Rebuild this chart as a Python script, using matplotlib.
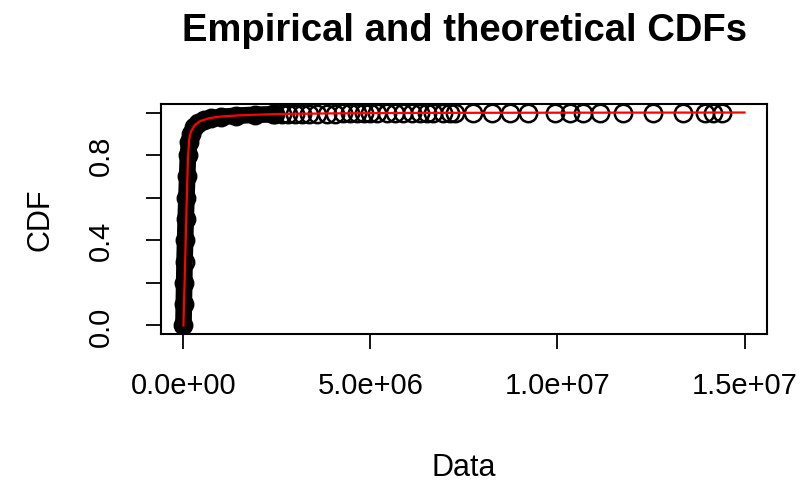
import numpy as np
import matplotlib.pyplot as plt

# empirical CDF, dense body (x in units of 1e6)
body_x = [0.00, 0.01, 0.02, 0.03, 0.045, 0.06, 0.08, 0.10, 0.12, 0.15, 0.20,
          0.28, 0.40, 0.55, 0.75, 1.00, 1.40, 1.90, 2.40]
body_f = [0.00, 0.10, 0.20, 0.30, 0.40, 0.50, 0.60, 0.70, 0.80, 0.86, 0.90,
          0.93, 0.95, 0.963, 0.972, 0.979, 0.985, 0.989, 0.992]

# empirical CDF, sparse tail
tail_x = [2.45, 2.64, 2.80, 2.98, 3.17, 3.36, 3.57, 3.84, 4.05, 4.26, 4.45,
          4.64, 4.83, 4.99, 5.17, 5.44, 5.65, 5.87, 6.11, 6.32, 6.51, 6.67,
          6.94, 7.13, 7.26, 7.74, 8.25, 8.73, 9.21, 9.93, 10.33, 10.68,
          11.13, 11.74, 12.55, 13.35, 13.94, 14.15, 14.39]
tail_f = [0.992, 0.993, 0.993, 0.994, 0.994, 0.994, 0.995, 0.995, 0.995,
          0.996, 0.996, 0.996, 0.996, 0.997, 0.997, 0.997, 0.997, 0.997,
          0.998, 0.998, 0.998, 0.998, 0.998, 0.998, 0.998, 0.999, 0.999,
          0.999, 0.999, 0.999, 0.999, 0.999, 0.999, 1.0, 1.0, 1.0, 1.0,
          1.0, 1.0]

# fitted (theoretical) CDF
fit_x = [0.0, 0.03, 0.06, 0.09, 0.12, 0.15, 0.20, 0.30, 0.45, 0.70, 1.00,
         1.50, 2.50, 4.00, 6.00, 9.00, 15.0]
fit_f = [0.0, 0.20, 0.40, 0.60, 0.78, 0.87, 0.91, 0.94, 0.96, 0.974, 0.981,
         0.987, 0.993, 0.996, 0.998, 0.999, 1.0]

xticks = [0, 5e6, 1e7, 1.5e7]
xtick_labels = ["0.0e+00", "5.0e+06", "1.0e+07", "1.5e+07"]
yticks = [0.0, 0.2, 0.4, 0.6, 0.8, 1.0]
ytick_labels = ["0.0", "", "0.4", "", "0.8", ""]

plt.rcParams['font.family'] = ['Liberation Sans', 'DejaVu Sans']

fig = plt.figure(figsize=(8.07, 4.85), dpi=100)
ax = fig.add_axes([0.1995, 0.3093, 0.7509, 0.4742])

scale = 1e6
bx = np.array(body_x) * scale
tx = np.array(tail_x) * scale
fx = np.array(fit_x) * scale

# thousands of overlapping circles near zero render as a solid black band
ax.plot(bx, body_f, color='black', lw=12, solid_capstyle='round', zorder=2)
ax.plot(bx, body_f, 'o', ms=12.5, mfc='none', mec='black', mew=1.8, zorder=2)
ax.plot(tx, tail_f, 'o', ms=12.5, mfc='none', mec='black', mew=1.8, zorder=2)
ax.plot(fx, fit_f, color='red', lw=1.6, zorder=3)

ax.set_xlim(-0.6e6, 15.6e6)
ax.set_ylim(-0.04, 1.04)
ax.set_xticks(xticks)
ax.set_xticklabels(xtick_labels)
ax.set_yticks(yticks)
ax.set_yticklabels(ytick_labels, rotation=90, va='center')

ax.tick_params(axis='both', direction='out', length=11, width=1.3,
               labelsize=21, color='black')
ax.tick_params(axis='x', pad=16)
ax.tick_params(axis='y', pad=22)
for s in ax.spines.values():
    s.set_linewidth(1.5)

fig.text(465 / 807, 1 - 31 / 485, "Empirical and theoretical CDFs",
         ha='center', va='center', fontsize=27.5, fontweight='bold')
fig.text(40 / 807, 1 - 220 / 485, "CDF", rotation=90, ha='center',
         va='center', fontsize=22)
fig.text(464 / 807, 1 - 468 / 485, "Data", ha='center', va='center',
         fontsize=22)

fig.savefig("out.png", dpi=100)
